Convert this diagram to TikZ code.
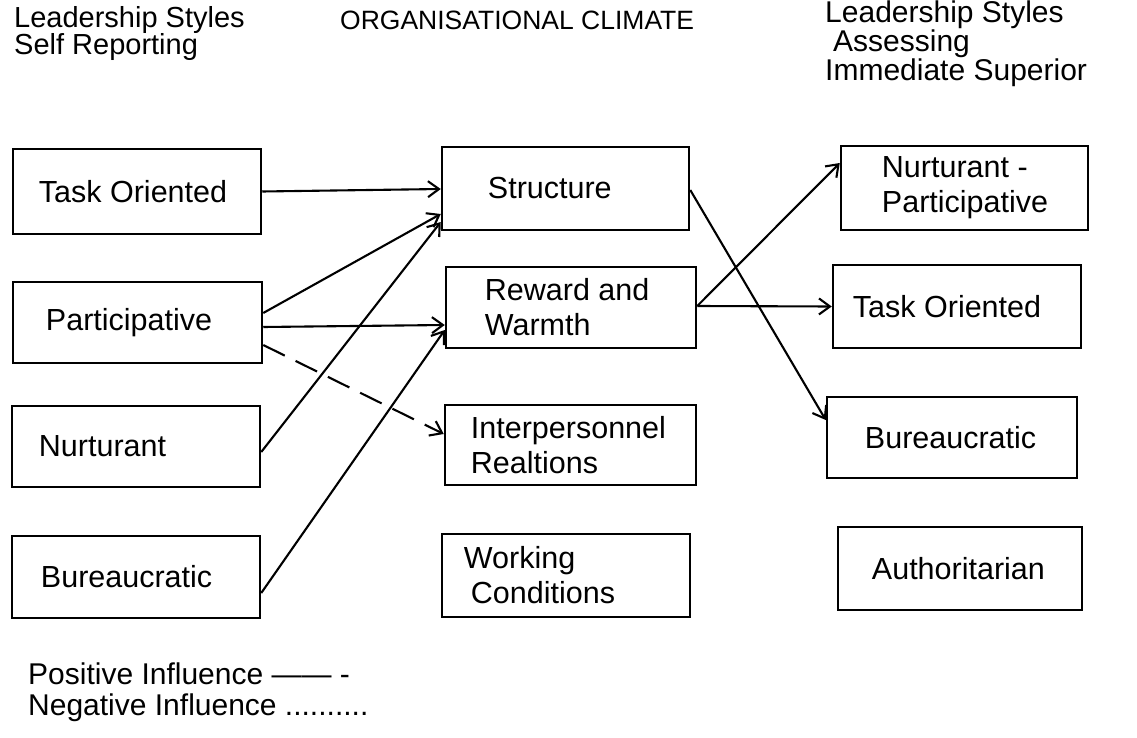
\documentclass[tikz,border=0pt]{standalone}
\usepackage{fontspec}
\setmainfont{Liberation Sans}
\usetikzlibrary{arrows.meta}
\begin{document}
\begin{tikzpicture}[x=1pt,y=-1pt,
  box/.style={draw, line width=2.5pt, inner sep=0pt},
  lbl/.style={anchor=west, inner sep=0pt, align=left,
    font=\fontsize{30.5}{35}\selectfont},
  head/.style={anchor=west, inner sep=0pt, align=left,
    font=\fontsize{29}{27.5}\selectfont},
  legend/.style={anchor=west, inner sep=0pt, align=left,
    font=\fontsize{30}{31.5}\selectfont},
  link/.style={line width=2.1pt, -{Straight Barb[length=11pt,width=16pt]}},
  weak/.style={link, dash pattern=on 24pt off 12pt}]
\useasboundingbox[fill=white] (0,0) rectangle (1137,738);

% column headings
\node[head] (hl) at (14,33.5) {Leadership Styles\\Self Reporting};
\node[head, font=\fontsize{26.5}{28}\selectfont] (hm) at (340,20) {ORGANISATIONAL CLIMATE};
\node[head, font=\fontsize{30}{27.5}\selectfont] (hr) at (825,43.5) {Leadership Styles\\\hspace*{8pt}Assessing\\Immediate Superior};

% self-reported styles
\node[box, minimum width=248, minimum height=85] (l1) at (137,191.5) {};
\node[box, minimum width=249, minimum height=81] (l2) at (137.5,322.5) {};
\node[box, minimum width=248, minimum height=81] (l3) at (136,446.5) {};
\node[box, minimum width=248, minimum height=82] (l4) at (136,577) {};
\node[lbl] (l1t) at ([xshift=27pt]l1.west) {Task Oriented};
\node[lbl] (l2t) at ([xshift=34pt]l2.west) {Participative};
\node[lbl] (l3t) at ([xshift=28pt]l3.west) {Nurturant};
\node[lbl] (l4t) at ([xshift=30pt]l4.west) {Bureaucratic};

% climate dimensions
\node[box, minimum width=247, minimum height=83] (m1) at (565.5,188.5) {};
\node[box, minimum width=250, minimum height=81] (m2) at (571,307.5) {};
\node[box, minimum width=251, minimum height=80] (m3) at (570.5,445) {};
\node[box, minimum width=248, minimum height=83] (m4) at (566,575.5) {};
\node[lbl] (m1t) at ([xshift=47pt]m1.west) {Structure};
\node[lbl] (m2t) at ([xshift=40pt]m2.west) {Reward and\\Warmth};
\node[lbl] (m3t) at ([xshift=27pt]m3.west) {Interpersonnel\\Realtions};
\node[lbl] (m4t) at ([xshift=23pt]m4.west) {Working\\\hspace*{7pt}Conditions};

% styles of the immediate superior
\node[box, minimum width=247, minimum height=84] (r1) at (964.5,188) {};
\node[box, minimum width=248, minimum height=83] (r2) at (957,306.5) {};
\node[box, minimum width=250, minimum height=81] (r3) at (952,437.5) {};
\node[box, minimum width=244, minimum height=83] (r4) at (960,568.5) {};
\node[lbl] (r1t) at ([xshift=42pt]r1.west) {Nurturant -\\Participative};
\node[lbl] (r2t) at ([xshift=21pt]r2.west) {Task Oriented};
\node[lbl] (r3t) at ([xshift=39pt]r3.west) {Bureaucratic};
\node[lbl] (r4t) at ([xshift=35pt]r4.west) {Authoritarian};

% influences on the climate
\draw[link] (l1.east) -- ([yshift=-0.5pt]m1.west);
\draw[link] ([yshift=9.5pt]l2.east) -- ([yshift=-25.5pt]m1.west);
\draw[link] ([yshift=-4.5pt]l2.east) -- ([yshift=-17.5pt]m2.west);
\draw[weak] ([yshift=-22.5pt]l2.east) -- ([yshift=11pt]m3.west);
\draw[link] ([yshift=-5.5pt]l3.east) -- ([yshift=-33.5pt]m1.west);
\draw[link] ([yshift=-16pt]l4.east) -- ([yshift=-22.5pt]m2.west);

% climate to perceived superior style
\draw[link] ([yshift=-1.5pt]m1.east) -- ([yshift=17.5pt]r3.west);
\draw[link] ([yshift=1.5pt]m2.east) -- ([yshift=25pt]r1.west);
\draw[link] ([yshift=1.5pt]m2.east) -- (r2.west);

% key
\node[legend] (key) at (28,692) {Positive Influence —— -\\Negative Influence ..........};
\end{tikzpicture}
\end{document}
